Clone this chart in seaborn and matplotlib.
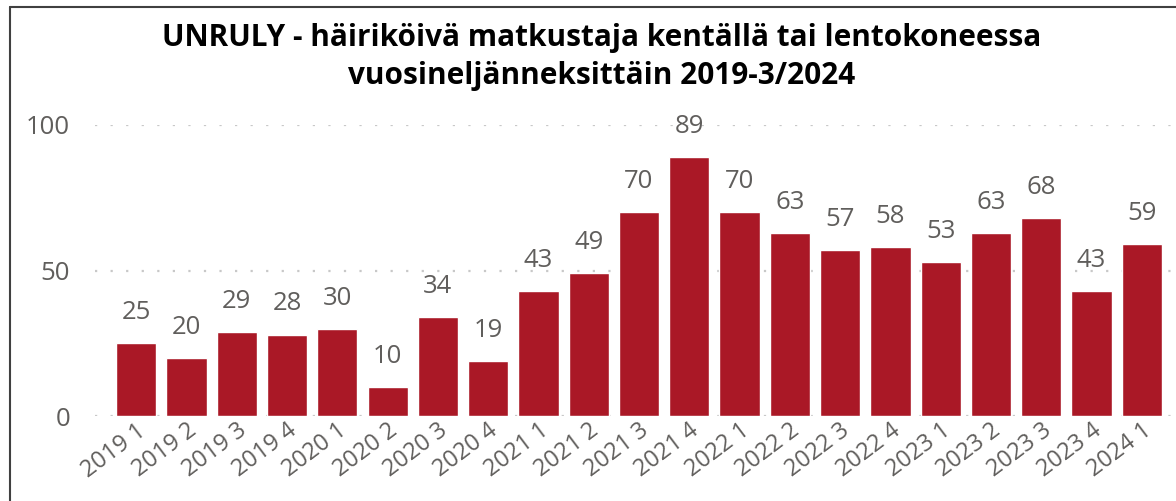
import matplotlib
matplotlib.use("Agg")
import matplotlib.pyplot as plt
import seaborn as sns
import pandas as pd
from matplotlib.lines import Line2D

categories = ["2019 1", "2019 2", "2019 3", "2019 4", "2020 1", "2020 2", "2020 3", "2020 4",
              "2021 1", "2021 2", "2021 3", "2021 4", "2022 1", "2022 2", "2022 3", "2022 4",
              "2023 1", "2023 2", "2023 3", "2023 4", "2024 1"]
values = [25, 20, 29, 28, 30, 10, 34, 19, 43, 49, 70, 89, 70, 63, 57, 58, 53, 63, 68, 43, 59]
yticks = [0, 50, 100]
title = "UNRULY - häiriköivä matkustaja kentällä tai lentokoneessa\nvuosineljänneksittäin 2019-3/2024"

sns.set_theme(style="white")
plt.rcParams['font.family'] = ['Open Sans', 'DejaVu Sans']

df = pd.DataFrame({"q": categories, "n": values})

fig = plt.figure(figsize=(11.76, 5.01), dpi=100)
ax = fig.add_axes([95/1176, 85/501, (1172-95)/1176, (416-125)/501])

bar_color = "#AA1826"
sns.barplot(data=df, x="q", y="n", color=bar_color, saturation=1, width=0.8, ax=ax, zorder=3)

ax.set_xlim(-0.82, 20.6)
ax.set_ylim(0, 100)
ax.set_yticks(yticks)
ax.set_xlabel("")
ax.set_ylabel("")
for s in ax.spines.values():
    s.set_visible(False)

text_color = "#605E5C"
ax.yaxis.grid(True, color="#C8C8C8", linestyle=(0, (1, 6)), linewidth=1.6, zorder=0)
ax.xaxis.grid(False)
ax.tick_params(axis="y", length=0, pad=18, labelsize=18.5, labelcolor=text_color)
ax.tick_params(axis="x", length=0, pad=2, labelsize=17, labelcolor=text_color)
for lbl in ax.get_xticklabels():
    lbl.set_rotation(37)
    lbl.set_ha("right")
    lbl.set_rotation_mode("anchor")

for c in ax.containers:
    ax.bar_label(c, labels=[str(v) for v in values], padding=13, fontsize=18.5, color=text_color)

fig.text(0.512, 0.887, title, ha="center", va="center", fontsize=21.4, fontweight="bold",
         color="#000000", linespacing=1.35)

# frame lines (top and left)
fig.add_artist(Line2D([10/1176, 10/1176], [0, 1 - 7/501], transform=fig.transFigure,
                      color="#404040", linewidth=1.5))
fig.add_artist(Line2D([10/1176, 1], [1 - 7/501, 1 - 7/501], transform=fig.transFigure,
                      color="#404040", linewidth=1.5))

fig.savefig("out.png", dpi=100)
